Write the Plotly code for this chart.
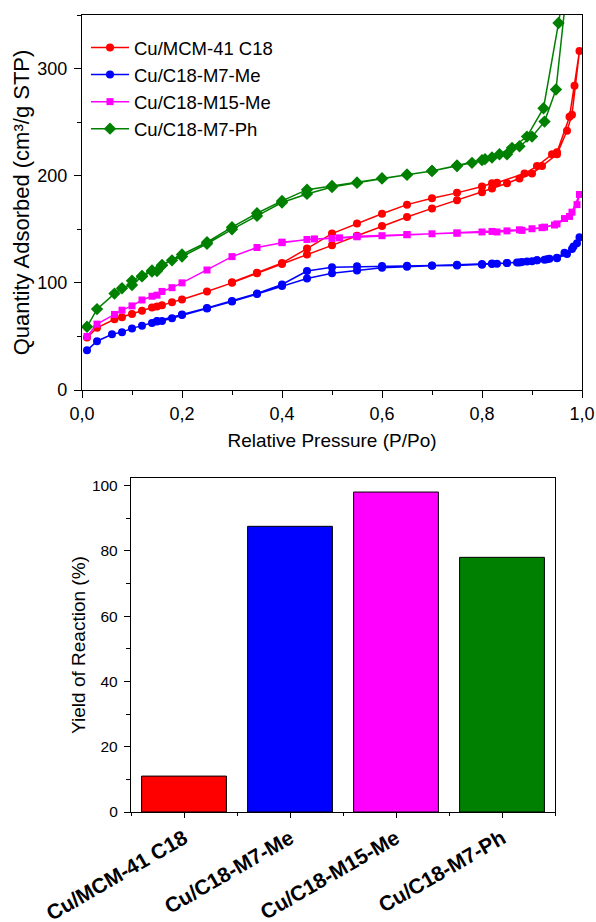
import plotly.graph_objects as go

# ---------------- Isotherm data (adsorption then desorption) ----------------
mcm_p = [0.01, 0.03, 0.065, 0.08, 0.10, 0.12, 0.14, 0.15, 0.16, 0.18, 0.20, 0.25, 0.30, 0.35, 0.40,
         0.45, 0.50, 0.55, 0.60, 0.65, 0.70, 0.75, 0.80, 0.82, 0.85, 0.875, 0.90, 0.92, 0.95, 0.97,
         0.98, 0.995,
         0.985, 0.975, 0.95, 0.94, 0.91, 0.885, 0.83, 0.82, 0.80, 0.75, 0.70, 0.65, 0.60, 0.55,
         0.50, 0.45, 0.40, 0.35, 0.30]
mcm_v = [49, 58, 66, 68, 71, 74, 77, 78, 79, 82, 84.5, 92, 100, 109, 117.5,
         126.5, 135, 144, 153, 161.5, 169.5, 177, 184.5, 188, 193, 197.5, 202, 209, 220, 242,
         257, 316.5,
         284, 255, 222, 220, 209, 202, 193.5, 193, 190, 184, 179, 173, 164.5, 155.5,
         146, 132, 118.5, 109.5, 100.5]

m7me_p = [0.01, 0.03, 0.06, 0.08, 0.10, 0.12, 0.14, 0.15, 0.16, 0.18, 0.20, 0.25, 0.30, 0.35, 0.40,
          0.45, 0.50, 0.55, 0.60, 0.65, 0.70, 0.75, 0.80, 0.82, 0.83, 0.85, 0.875, 0.88, 0.90, 0.91,
          0.925, 0.935, 0.95, 0.965, 0.98, 0.995,
          0.99, 0.983, 0.97, 0.95, 0.93, 0.91, 0.89, 0.87, 0.85, 0.82, 0.80, 0.75, 0.70, 0.65,
          0.60, 0.55, 0.50, 0.45, 0.40, 0.35, 0.30, 0.25, 0.20, 0.15]
m7me_v = [37, 45.5, 52, 54, 57.5, 60, 62.5, 64, 64.5, 67, 70, 76, 82.5, 89.5, 97,
          104, 109, 111.5, 114, 115, 116, 116.3, 117, 117.5, 117.8, 118.5, 119, 119.5, 120.2, 121,
          121.5, 122.5, 123.5, 128, 131.5, 142.5,
          137, 134, 127, 123, 122, 121, 120, 119, 118.5, 118, 117.5, 116.8, 116.3, 116,
          115.8, 115.5, 114.5, 111, 98.5, 90, 83, 76.5, 70.5, 64.5]

m15me_p = [0.01, 0.03, 0.065, 0.08, 0.10, 0.12, 0.14, 0.15, 0.16, 0.18, 0.20, 0.25, 0.30, 0.35, 0.40,
           0.45, 0.50, 0.55, 0.60, 0.65, 0.70, 0.75, 0.80, 0.82, 0.85, 0.875, 0.90, 0.925, 0.945,
           0.965, 0.98, 0.995,
           0.99, 0.975, 0.95, 0.92, 0.88, 0.83, 0.75, 0.65, 0.55, 0.515, 0.465, 0.40]
m15me_v = [50, 61.5, 70.5, 74.5, 78.5, 84, 87.5, 88.5, 92, 95.5, 100, 112, 124.5, 133, 137.5,
           140.5, 141.5, 143, 144, 145, 145.8, 146.5, 147.5, 148, 148.5, 149.5, 150.5, 152, 154,
           160, 166, 182.5,
           173, 162, 155, 151.5, 149, 147.5, 146.5, 145, 143.5, 142, 141, 138]

m7ph_p = [0.01, 0.03, 0.065, 0.08, 0.10, 0.12, 0.14, 0.15, 0.16, 0.18, 0.20, 0.25, 0.30, 0.35, 0.40,
          0.45, 0.50, 0.55, 0.60, 0.65, 0.70, 0.75, 0.78, 0.80, 0.82, 0.85, 0.875, 0.90, 0.925,
          0.948, 0.98,
          0.953, 0.923, 0.89, 0.86, 0.835, 0.806, 0.75, 0.70, 0.65, 0.60, 0.55, 0.50, 0.45, 0.40,
          0.35, 0.30, 0.25, 0.20, 0.16, 0.14, 0.12, 0.10]
m7ph_v = [59, 75.5, 90, 95, 98, 106, 110.5, 111, 116.5, 121, 124.5, 136.5, 150, 162.5, 175,
          183, 189.5, 193.5, 197.5, 201, 204.5, 209, 212, 214.5, 217, 220, 227.5, 236.5, 250.5,
          280.5, 420,
          342.5, 263, 236.5, 226, 220, 215.5, 209.5, 204.5, 201, 197.5, 193.5, 190.5, 187, 176.5,
          165, 152, 138, 126.5, 116.5, 111.5, 106.5, 102]

series_names = ["Cu/MCM-41 C18", "Cu/C18-M7-Me", "Cu/C18-M15-Me", "Cu/C18-M7-Ph"]
series_colors = ["#FF0000", "#0000FF", "#FF00FF", "#008000"]
series_symbols = ["circle", "circle", "square", "diamond"]
series_sizes = [8, 8, 7, 9.5]
series_p = [mcm_p, m7me_p, m15me_p, m7ph_p]
series_v = [mcm_v, m7me_v, m15me_v, m7ph_v]

# ---------------- Yield data ----------------
yield_cats = ["Cu/MCM-41 C18", "Cu/C18-M7-Me", "Cu/C18-M15-Me", "Cu/C18-M7-Ph"]
yield_vals = [11, 87.5, 98, 78]

x_ticks = [0.0, 0.2, 0.4, 0.6, 0.8, 1.0]
x_ticktext = ["0,0", "0,2", "0,4", "0,6", "0,8", "1,0"]

FONT = "Arial, 'Liberation Sans', sans-serif"

fig = go.Figure()

for name, col, sym, sz, p, v in zip(series_names, series_colors, series_symbols, series_sizes,
                                    series_p, series_v):
    fig.add_trace(go.Scatter(
        x=p, y=v, name=name, mode="lines+markers",
        line=dict(color=col, width=1.5),
        marker=dict(color=col, symbol=sym, size=sz),
        cliponaxis=True,
        xaxis="x", yaxis="y",
    ))

fig.add_trace(go.Bar(
    x=list(range(len(yield_cats))), y=yield_vals,
    marker=dict(color=series_colors, line=dict(color="black", width=1)),
    width=0.8, showlegend=False,
    xaxis="x2", yaxis="y2",
))

axis_common = dict(showline=True, linecolor="black", linewidth=1.3, mirror=True,
                   ticks="outside", tickcolor="black", showgrid=False, zeroline=False)

W, H = 596, 922

fig.update_layout(
    width=W, height=H,
    margin=dict(l=0, r=0, t=0, b=0),
    paper_bgcolor="white", plot_bgcolor="white",
    font=dict(family=FONT, color="black"),
    xaxis=dict(domain=[82 / W, 582 / W], anchor="y", range=[0, 1],
               tickvals=x_ticks, ticktext=x_ticktext, ticklen=7, tickwidth=1.2,
               tickfont=dict(size=18),
               minor=dict(tickmode="linear", tick0=0, dtick=0.1, ticklen=4, ticks="outside",
                          tickcolor="black"),
               title=dict(text="Relative Pressure (P/Po)", font=dict(size=19), standoff=10),
               automargin=False, **axis_common),
    yaxis=dict(domain=[1 - 390 / H, 1 - 15 / H], anchor="x", range=[0, 350],
               tickvals=[0, 100, 200, 300], ticklen=7, tickwidth=1.2,
               tickfont=dict(size=18), ticklabelstandoff=3,
               minor=dict(tickmode="linear", tick0=0, dtick=50, ticklen=4, ticks="outside",
                          tickcolor="black"),
               title=dict(text="Quantity Adsorbed (cm³/g STP)", font=dict(size=22), standoff=1),
               automargin=False, **axis_common),
    xaxis2=dict(domain=[131 / W, 555 / W], anchor="y2", range=[-0.5, 3.5],
                tickvals=list(range(len(yield_cats))), ticktext=yield_cats,
                tickangle=-30, ticklen=5, tickwidth=1.2,
                tickfont=dict(size=21, weight="bold"),
                minor=dict(tickmode="linear", tick0=0.5, dtick=1, ticklen=3, ticks="outside",
                           tickcolor="black"),
                automargin=False, **axis_common),
    yaxis2=dict(domain=[1 - 812 / H, 1 - 478 / H], anchor="x2", range=[0, 102.3],
                tickvals=[0, 20, 40, 60, 80, 100], ticklen=6, tickwidth=1.2,
                tickfont=dict(size=15.5), ticklabelstandoff=3,
                minor=dict(tickmode="linear", tick0=0, dtick=10, ticklen=4, ticks="outside",
                           tickcolor="black"),
                title=dict(text="Yield of Reaction (%)", font=dict(size=19), standoff=1),
                automargin=False, **axis_common),
    legend=dict(x=86 / W, y=1 - 29 / H, xanchor="left", yanchor="top",
                bgcolor="rgba(0,0,0,0)", font=dict(size=18.5), tracegroupgap=0,
                itemwidth=38),
)

fig.write_html("out.html", config={"displayModeBar": False},
               post_script="document.body.style.margin='0px';")
